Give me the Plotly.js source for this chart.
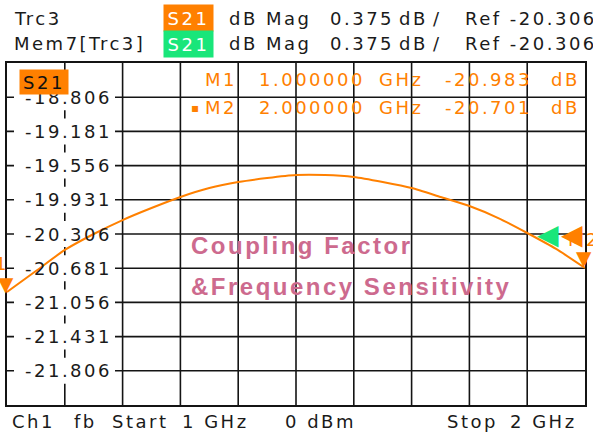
<!DOCTYPE html>
<html>
<head>
<meta charset="utf-8">
<script src="https://cdn.plot.ly/plotly-3.0.1.min.js"></script>
<style>
  html, body { margin: 0; padding: 0; background: #fff; }
  svg text { letter-spacing: 2.5px; }
</style>
</head>
<body>
<div id="chart" style="width:593px;height:437px;"></div>
<script>
// ---- data ----
const freqGHz = [1.00, 1.05, 1.10, 1.15, 1.20, 1.25, 1.30, 1.35, 1.40, 1.45, 1.50,
                 1.55, 1.60, 1.65, 1.70, 1.75, 1.80, 1.85, 1.90, 1.95, 2.00];
const s21dB = [-20.942, -20.712, -20.481, -20.306, -20.153, -20.021, -19.900, -19.802,
               -19.736, -19.692, -19.659, -19.659, -19.681, -19.736, -19.802, -19.900,
               -19.999, -20.131, -20.295, -20.470, -20.679];
const markerNames = ["M1", "M2"];
const markerFreqGHz = [1.0, 2.0];
const markerValues = [-20.983, -20.701];
const markerFreqText = ["1.000000", "2.000000"];
const markerValText = ["-20.983", "-20.701"];
const yTickValues = [-18.806, -19.181, -19.556, -19.931, -20.306, -20.681, -21.056, -21.431, -21.806];
const yTickText = ["-18.806", "-19.181", "-19.556", "-19.931", "-20.306", "-20.681", "-21.056", "-21.431", "-21.806"];
const xGridGHz = [1.1, 1.2, 1.3, 1.4, 1.5, 1.6, 1.7, 1.8, 1.9];
const refLevel = -20.306;
const scaleDiv = 0.375;
const traceNames = ["Trc3", "Mem7[Trc3]"];

// ---- styles ----
const ORANGE = "#FF8000";
const GREEN = "#19E67A";
const PINK = "#CD6A8E";
const INK = "#1a1a1a";
const GRID = "#141414";
const FONT = "DejaVu Sans";

// pixel -> paper helpers (plot area: x 7..585, y 63..405)
const PX = p => (p - 7) / 578;
const PY = p => (405 - p) / 342;

const ann = [];
function txt(text, xpx, ypx, opts) {
  ann.push(Object.assign({
    text: text, xref: "paper", yref: "paper", x: PX(xpx), y: PY(ypx),
    xanchor: "left", yanchor: "middle", showarrow: false, align: "left",
    font: {family: FONT, size: 18, color: INK}
  }, opts || {}));
}

// header rows
const headY = [18, 44];
const boxColors = [ORANGE, GREEN];
for (let r = 0; r < 2; r++) {
  txt(traceNames[r], 12, headY[r]);
  txt("S21", 163, headY[r], {width: 49, height: 26, borderpad: 0, align: "center",
      bgcolor: boxColors[r], font: {family: FONT, size: 18, color: "#ffffff"}});
  txt("dB Mag", 227, headY[r]);
  txt(scaleDiv.toFixed(3), 328, headY[r]);
  txt("dB", 397, headY[r]);
  txt("/", 431, headY[r]);
  txt("Ref " + refLevel.toFixed(3), 463, headY[r]);
}

// grid lines (as shapes below the trace) + white label backgrounds over them
const shapes = [];
for (const g of xGridGHz) {
  shapes.push({type: "line", layer: "below", xref: "x", yref: "paper", x0: g, x1: g, y0: 0, y1: 1,
    line: {color: GRID, width: 1.6}});
}
for (const v of yTickValues) {
  shapes.push({type: "line", layer: "below", xref: "paper", yref: "y", x0: 0, x1: 1, y0: v, y1: v,
    line: {color: GRID, width: 1.6}});
}
for (const v of yTickValues) {
  shapes.push({type: "rect", layer: "below", xref: "paper", yref: "y",
    ysizemode: "pixel", yanchor: v, y0: -13, y1: 13,
    x0: PX(14), x1: PX(115), fillcolor: "#ffffff", line: {width: 0}});
}
// y tick labels
for (let i = 0; i < yTickValues.length; i++) {
  ann.push({text: yTickText[i], xref: "paper", yref: "y", x: PX(114), y: yTickValues[i],
    xanchor: "right", yanchor: "middle", showarrow: false, align: "right",
    font: {family: FONT, size: 18, color: INK}});
}

// S21 tag inside plot
txt("S21", 19, 82, {width: 48, height: 24, borderpad: 0, align: "center",
    bgcolor: ORANGE, font: {family: FONT, size: 18, color: "#111"}});

// marker table
const mRowY = [80, 108];
for (let i = 0; i < 2; i++) {
  const f = {family: FONT, size: 18, color: ORANGE};
  if (i === 1) txt("▪", 189, mRowY[i], {font: {family: FONT, size: 12, color: ORANGE}});
  txt(markerNames[i], 203, mRowY[i], {font: f});
  txt(markerFreqText[i], 257, mRowY[i], {font: f});
  txt("GHz", 377, mRowY[i], {font: f});
  txt(markerValText[i], 443, mRowY[i], {font: f});
  txt("dB", 549, mRowY[i], {font: f});
}

// marker triangles on the trace
for (let i = 0; i < 2; i++) {
  ann.push({text: "▼", xref: "x", yref: "y", x: markerFreqGHz[i], y: markerValues[i],
    xanchor: "center", yanchor: "bottom", showarrow: false, yshift: -2,
    font: {family: FONT, size: 20, color: ORANGE}});
}
txt("M1", 11, 263, {xanchor: "right", align: "right", font: {family: FONT, size: 18, color: ORANGE}});

// reference level arrows
ann.push({text: "◀", xref: "paper", yref: "y", x: PX(549), y: refLevel, xanchor: "center",
  yanchor: "middle", showarrow: false, font: {family: FONT, size: 28, color: GREEN}});
ann.push({text: "◀", xref: "paper", yref: "y", x: PX(573), y: refLevel, xanchor: "center",
  yanchor: "middle", showarrow: false, font: {family: FONT, size: 28, color: ORANGE}});
txt("M2", 566, 239, {font: {family: FONT, size: 18, color: ORANGE}});

// centre caption
txt("Coupling Factor", 189, 245, {font: {family: "Liberation Sans", size: 24, color: PINK, weight: "bold"}});
txt("&amp;Frequency Sensitivity", 189, 286, {font: {family: "Liberation Sans", size: 24, color: PINK, weight: "bold"}});

// bottom footer
const footY = 421;
txt("Ch1", 10, footY);
txt("fb", 72, footY);
txt("Start", 110, footY);
txt("1 GHz", 180, footY);
txt("0 dBm", 283, footY);
txt("Stop", 445, footY);
txt("2 GHz", 508, footY);

const trace = {
  x: freqGHz, y: s21dB, type: "scatter", mode: "lines",
  line: {color: ORANGE, width: 2, shape: "spline", smoothing: 0.6},
  hoverinfo: "skip", showlegend: false
};

const axisCommon = {showline: true, mirror: true, linecolor: GRID, linewidth: 2,
  showgrid: false, zeroline: false, showticklabels: false, ticks: "", fixedrange: true};

const layout = {
  width: 593, height: 437,
  margin: {l: 7, r: 8, t: 63, b: 32, pad: 0},
  paper_bgcolor: "#ffffff", plot_bgcolor: "#ffffff",
  showlegend: false,
  xaxis: Object.assign({}, axisCommon, {range: [1, 2]}),
  yaxis: Object.assign({}, axisCommon, {range: [refLevel - 5 * scaleDiv, refLevel + 5 * scaleDiv]}),
  shapes: shapes,
  annotations: ann
};

Plotly.newPlot("chart", [trace], layout, {displayModeBar: false, staticPlot: true});
</script>
</body>
</html>
